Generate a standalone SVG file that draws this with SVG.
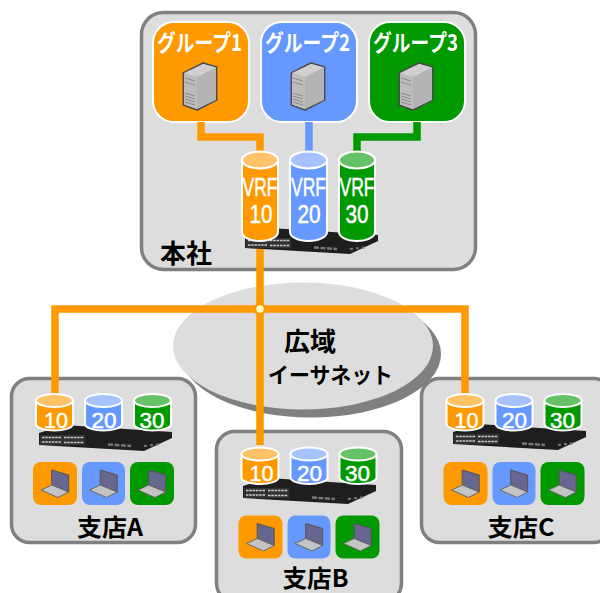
<svg xmlns="http://www.w3.org/2000/svg" width="600" height="593" viewBox="0 0 600 593">
<style>
.site{fill:#ddd;stroke:#808080;stroke-width:3.5}
.grp{stroke:#fff;stroke-width:2}
.or{fill:#f90}.bl{fill:#69f}.gr{fill:#090}
.orT{fill:#ffc266}.blT{fill:#a6c2ff}.grT{fill:#66c266}
.conn{fill:none;stroke-width:7.5;stroke-linejoin:miter}
.wt{fill:#fff;stroke:#fff;stroke-width:.5;font-family:"Liberation Sans",Arial,sans-serif;text-anchor:middle}
.jw{fill:#fff;font-family:"Noto Sans CJK JP","Liberation Sans",sans-serif;font-weight:700;font-size:23px}
.jb{fill:#000;font-family:"Noto Sans CJK JP","Liberation Sans",sans-serif;font-weight:700}
.cyl{stroke:#fff;stroke-width:2}
</style>
<defs>
<symbol id="server" overflow="visible">
<path d="M183.500 73 203 63 216.500 67 216.500 100 197 110 183.500 105Z" fill="#bbb" stroke="#4a4a4a" stroke-width="1.800" stroke-linejoin="round"/>
<path d="M184 73 203 64 216 67.500 197 77Z" fill="#d0d0d0"/>
<path d="M184 73.500 197 77 197 109 184 104.500Z" fill="#bdbdbd"/>
<path d="M197 77 216 67.500 216 100 197 109Z" fill="#b4b4b4"/>
<path d="M185 78 195 81M185 82 195 85M185 93 195 96M185 96 195 99M185 99 195 102M185 102 195 105" stroke="#8a8a8a" stroke-width="1" fill="none"/>
</symbol>
<symbol id="switch" overflow="visible">
<path d="M245 236 270 228 378 235 378 241 350 254 245 248Z" fill="#1e1e1e"/>
<path d="M246 238H291V248H246Z" fill="#333"/>
<path d="M248 240.500H267M270 240.500H290M248 245H267M270 245.500H290" stroke="#ccc" stroke-width="1.700" stroke-dasharray="2.500 .8" fill="none"/>
<path d="M314 247.500 337 249" stroke="#777" stroke-width="2.500" stroke-dasharray="5 1.500" fill="none"/>
<path d="M350 249 368 247" stroke="#777" stroke-width="2" stroke-dasharray="3 3" fill="none"/>
</symbol>
<symbol id="laptop" overflow="visible">
<path d="M18.700 8 35.700 13 35.700 30 18.700 23Z" fill="#66668f" stroke="#555" stroke-width="1"/>
<path d="M8 28 18.700 23 35.700 30 25 35.500Z" fill="#c4c4c4" stroke="#666" stroke-width="1"/>
</symbol>
</defs>

<g id="wan">
<ellipse cx="311" cy="354" rx="130" ry="63.500" fill="#808080"/>
<ellipse cx="303" cy="346" rx="130" ry="63.500" fill="#ddd"/>
<text class="jb" x="284" y="351" font-size="26">広域</text>
<text class="jb" x="268" y="383" font-size="22" textLength="125" lengthAdjust="spacingAndGlyphs">イーサネット</text>
</g>

<g id="hq">
<rect class="site" x="141.500" y="12.500" width="334" height="257" rx="22"/>
<text class="jb" x="160" y="263" font-size="26">本社</text>
</g>

<g id="group1"><rect class="grp or" x="153" y="22" width="96" height="100" rx="21"/>
<text class="jw" x="157" y="51" textLength="85" lengthAdjust="spacingAndGlyphs">グループ1</text>
<use href="#server"/></g>
<g id="group2"><rect class="grp bl" x="261" y="22" width="96" height="100" rx="21"/>
<text class="jw" x="265" y="51" textLength="85" lengthAdjust="spacingAndGlyphs">グループ2</text>
<use href="#server" x="108"/></g>
<g id="group3"><rect class="grp gr" x="369" y="22" width="96" height="100" rx="21"/>
<text class="jw" x="373" y="51" textLength="85" lengthAdjust="spacingAndGlyphs">グループ3</text>
<use href="#server" x="216"/></g>

<g id="siteA"><rect class="site" x="11.500" y="378.500" width="184" height="164" rx="18"/></g>
<g id="siteB"><rect class="site" x="216.500" y="431.500" width="185" height="170" rx="18"/></g>
<g id="siteC"><rect class="site" x="421.500" y="378.500" width="190" height="164" rx="18"/></g>

<g id="connectors">
<path class="conn" stroke="#f90" d="M201 122V137H260V160"/>
<path class="conn" stroke="#69f" d="M309 122V160"/>
<path class="conn" stroke="#090" d="M417 122V137H357V160"/>
<path class="conn" stroke="#f90" d="M260 235V445"/>
<path class="conn" stroke="#f90" d="M55 395V309H465V395"/>
<circle cx="260" cy="309" r="5" fill="#ffffcc" stroke="#f90" stroke-width="2.500"/>
</g>

<g id="hqSwitch">
<use href="#switch"/>
<g class="cyl"><path class="or" d="M242 160V232A18 9 0 0 0 278 232V160Z"/><ellipse class="orT" cx="260" cy="160" rx="18" ry="8.500"/></g>
<g class="cyl"><path class="bl" d="M290 160V232A18.500 9 0 0 0 327 232V160Z"/><ellipse class="blT" cx="308.500" cy="160" rx="18.500" ry="8.500"/></g>
<g class="cyl"><path class="gr" d="M339 160V232A18 9 0 0 0 375 232V160Z"/><ellipse class="grT" cx="357" cy="160" rx="18" ry="8.500"/></g>
<g class="wt" font-size="25">
<text x="260" y="196" textLength="35" lengthAdjust="spacingAndGlyphs">VRF</text><text x="261" y="223" textLength="23" lengthAdjust="spacingAndGlyphs">10</text>
<text x="308.500" y="196" textLength="35" lengthAdjust="spacingAndGlyphs">VRF</text><text x="309" y="223" textLength="23" lengthAdjust="spacingAndGlyphs">20</text>
<text x="357" y="196" textLength="35" lengthAdjust="spacingAndGlyphs">VRF</text><text x="357" y="223" textLength="23" lengthAdjust="spacingAndGlyphs">30</text>
</g>
</g>

<g id="A">
<use href="#switch" transform="translate(-206 197)"/>
<g class="cyl"><path class="or" d="M36 401V424A18.500 6.500 0 0 0 73 424V401Z"/><ellipse class="orT" cx="54.500" cy="400.500" rx="18.500" ry="6.500"/></g>
<g class="cyl"><path class="bl" d="M85 401V424A18.500 6.500 0 0 0 122 424V401Z"/><ellipse class="blT" cx="103.500" cy="400.500" rx="18.500" ry="6.500"/></g>
<g class="cyl"><path class="gr" d="M134 401V424A18.500 6.500 0 0 0 171 424V401Z"/><ellipse class="grT" cx="152.500" cy="400.500" rx="18.500" ry="6.500"/></g>
<g class="wt" font-size="22"><text x="56" y="427.500" textLength="24" lengthAdjust="spacingAndGlyphs">10</text><text x="104" y="427.500" textLength="25" lengthAdjust="spacingAndGlyphs">20</text><text x="152" y="427.500" textLength="25" lengthAdjust="spacingAndGlyphs">30</text></g>
<g><rect class="or" x="33" y="462" width="44" height="43" rx="8"/><use href="#laptop" x="33" y="462"/>
<rect class="bl" x="82" y="462" width="43" height="43" rx="8"/><use href="#laptop" x="81.500" y="462"/>
<rect class="gr" x="130" y="462" width="44" height="43" rx="8"/><use href="#laptop" x="130" y="462"/></g>
<text class="jb" x="77" y="536" font-size="24" textLength="66" lengthAdjust="spacingAndGlyphs">支店A</text>
</g>

<g id="B">
<use href="#switch" transform="translate(-2 250)"/>
<g transform="translate(205.500 53.500)">
<g class="cyl"><path class="or" d="M36 401V424A18.500 6.500 0 0 0 73 424V401Z"/><ellipse class="orT" cx="54.500" cy="400.500" rx="18.500" ry="6.500"/></g>
<g class="cyl"><path class="bl" d="M85 401V424A18.500 6.500 0 0 0 122 424V401Z"/><ellipse class="blT" cx="103.500" cy="400.500" rx="18.500" ry="6.500"/></g>
<g class="cyl"><path class="gr" d="M134 401V424A18.500 6.500 0 0 0 171 424V401Z"/><ellipse class="grT" cx="152.500" cy="400.500" rx="18.500" ry="6.500"/></g>
<g class="wt" font-size="22"><text x="56" y="427.500" textLength="24" lengthAdjust="spacingAndGlyphs">10</text><text x="104" y="427.500" textLength="25" lengthAdjust="spacingAndGlyphs">20</text><text x="152" y="427.500" textLength="25" lengthAdjust="spacingAndGlyphs">30</text></g>
<g><rect class="or" x="33" y="462" width="44" height="43" rx="8"/><use href="#laptop" x="33" y="462"/>
<rect class="bl" x="82" y="462" width="43" height="43" rx="8"/><use href="#laptop" x="81.500" y="462"/>
<rect class="gr" x="130" y="462" width="44" height="43" rx="8"/><use href="#laptop" x="130" y="462"/></g>
<text class="jb" x="77" y="533" font-size="24" textLength="66" lengthAdjust="spacingAndGlyphs">支店B</text>
</g>
</g>

<g id="C">
<use href="#switch" transform="translate(208 196)"/>
<g transform="translate(410.500 0)">
<g class="cyl"><path class="or" d="M36 401V424A18.500 6.500 0 0 0 73 424V401Z"/><ellipse class="orT" cx="54.500" cy="400.500" rx="18.500" ry="6.500"/></g>
<g class="cyl"><path class="bl" d="M85 401V424A18.500 6.500 0 0 0 122 424V401Z"/><ellipse class="blT" cx="103.500" cy="400.500" rx="18.500" ry="6.500"/></g>
<g class="cyl"><path class="gr" d="M134 401V424A18.500 6.500 0 0 0 171 424V401Z"/><ellipse class="grT" cx="152.500" cy="400.500" rx="18.500" ry="6.500"/></g>
<g class="wt" font-size="22"><text x="56" y="427.500" textLength="24" lengthAdjust="spacingAndGlyphs">10</text><text x="104" y="427.500" textLength="25" lengthAdjust="spacingAndGlyphs">20</text><text x="152" y="427.500" textLength="25" lengthAdjust="spacingAndGlyphs">30</text></g>
<g><rect class="or" x="33" y="462" width="44" height="43" rx="8"/><use href="#laptop" x="33" y="462"/>
<rect class="bl" x="82" y="462" width="43" height="43" rx="8"/><use href="#laptop" x="81.500" y="462"/>
<rect class="gr" x="130" y="462" width="44" height="43" rx="8"/><use href="#laptop" x="130" y="462"/></g>
<text class="jb" x="77" y="536" font-size="24" textLength="67" lengthAdjust="spacingAndGlyphs">支店C</text>
</g>
</g>
</svg>
